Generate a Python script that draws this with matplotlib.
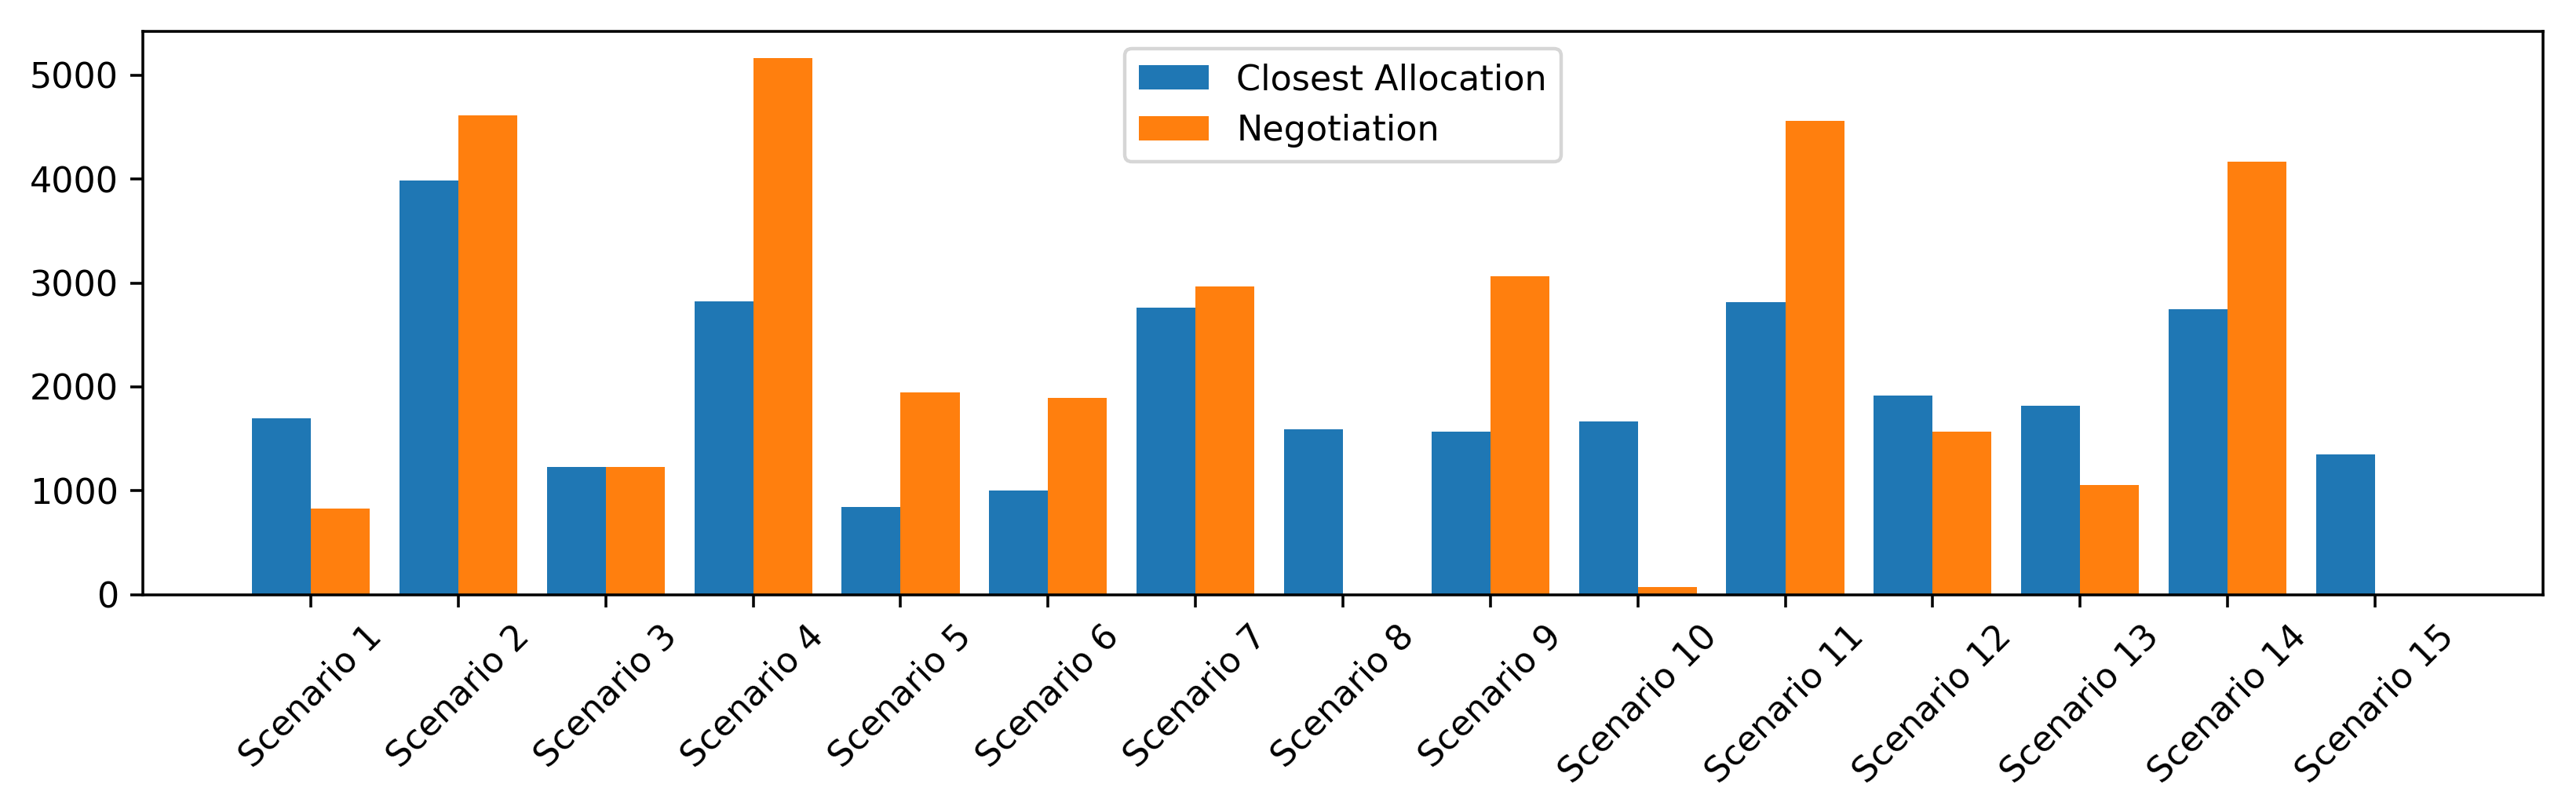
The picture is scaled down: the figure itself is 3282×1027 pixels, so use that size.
import matplotlib
matplotlib.use("Agg")
import matplotlib.pyplot as plt
import numpy as np

scenarios = [f"Scenario {i}" for i in range(1, 16)]
closest_allocation = [1696, 3989, 1228, 2820, 845, 999, 2766, 1594, 1567, 1667, 2816, 1917, 1820, 2747, 1351]
negotiation = [828, 4615, 1228, 5163, 1944, 1894, 2966, 0, 3066, 77, 4560, 1567, 1055, 4167, 0]

dpi = 320
fig = plt.figure(figsize=(3282 / dpi, 1027 / dpi), dpi=dpi)
ax = fig.add_axes([182 / 3282, 1 - 757.7 / 1027, (3240 - 182) / 3282, (757.7 - 40) / 1027])

x = np.arange(len(scenarios))
w = 0.4
ax.bar(x, closest_allocation, w, label="Closest Allocation", color="#1f77b4")
ax.bar(x + w, negotiation, w, label="Negotiation", color="#ff7f0e")
ax.set_xticks(x + w / 2)
ax.set_xticklabels(scenarios, rotation=45, fontsize=10)
ax.tick_params(axis="y", labelsize=10)
ax.legend(loc="upper center", fontsize=10)

fig.savefig("out.png", dpi=dpi)
